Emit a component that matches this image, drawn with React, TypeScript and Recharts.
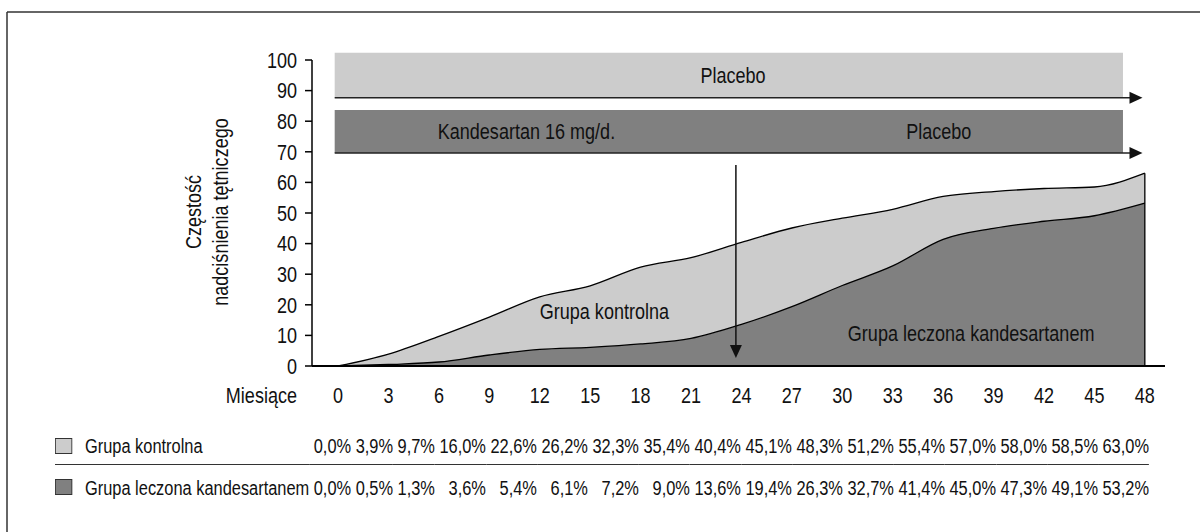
import React from 'react';
import {
  ComposedChart,
  Area,
  XAxis,
  YAxis,
  ReferenceArea,
  ReferenceLine,
  ReferenceDot,
} from 'recharts';

const months = [0, 3, 6, 9, 12, 15, 18, 21, 24, 27, 30, 33, 36, 39, 42, 45, 48];
const kontrolna = [0.0, 3.9, 9.7, 16.0, 22.6, 26.2, 32.3, 35.4, 40.4, 45.1, 48.3, 51.2, 55.4, 57.0, 58.0, 58.5, 63.0];
const leczona = [0.0, 0.5, 1.3, 3.6, 5.4, 6.1, 7.2, 9.0, 13.6, 19.4, 26.3, 32.7, 41.4, 45.0, 47.3, 49.1, 53.2];
const yTicks = [0, 10, 20, 30, 40, 50, 60, 70, 80, 90, 100];
const seriesNames = ['Grupa kontrolna', 'Grupa leczona kandesartanem'];

const FONT = "'Liberation Sans', Arial, sans-serif";
const SX = 0.82; // horizontal condensing (narrow face)
const LIGHT = '#cccccc';
const DARK = '#808080';
const INK = '#111';

const data = months.map((m, i) => ({ m, k: kontrolna[i], l: leczona[i] }));
const fmt = (v: number) => v.toFixed(1).replace('.', ',') + '%';

function NText({
  x,
  y,
  anchor = 'start',
  size = 22,
  rotate = 0,
  dy = '0.35em',
  children,
}: {
  x: number;
  y: number;
  anchor?: 'start' | 'middle' | 'end';
  size?: number;
  rotate?: number;
  dy?: string;
  children: React.ReactNode;
}) {
  return (
    <g transform={`translate(${x},${y})${rotate ? ` rotate(${rotate})` : ''}`}>
      <text
        x={0}
        y={0}
        dy={dy}
        transform={`scale(${SX},1)`}
        textAnchor={anchor}
        fontSize={size}
        fontFamily={FONT}
        fill={INK}
      >
        {children}
      </text>
    </g>
  );
}

const textShape = (txt: string, anchor: 'start' | 'middle' | 'end') => (p: any) => (
  <NText x={p.cx} y={p.cy} anchor={anchor}>
    {txt}
  </NText>
);

const XTick = (p: any) => (
  <NText x={p.x} y={p.y} anchor="middle" dy="0.71em">
    {p.payload.value}
  </NText>
);
const YTick = (p: any) => (
  <NText x={p.x} y={p.y} anchor="end" dy="0.35em">
    {p.payload.value}
  </NText>
);

const arrowRight = (p: any) => (
  <polygon points={`${p.cx},${p.cy} ${p.cx - 13},${p.cy - 6} ${p.cx - 13},${p.cy + 6}`} fill={INK} />
);
const arrowDown = (p: any) => (
  <polygon points={`${p.cx},${p.cy} ${p.cx - 6},${p.cy - 13} ${p.cx + 6},${p.cy - 13}`} fill={INK} />
);

const tdBase: React.CSSProperties = { padding: 0, whiteSpace: 'nowrap' };

function Square({ color }: { color: string }) {
  return (
    <span
      style={{
        display: 'inline-block',
        width: 17 / SX,
        height: 16,
        background: color,
        border: '1.5px solid #333',
        boxSizing: 'border-box',
        verticalAlign: 'middle',
        marginRight: 13 / SX,
        position: 'relative',
        top: -2,
      }}
    />
  );
}

export default function App() {
  const last = months.length - 1;
  const rows = [
    { name: seriesNames[0], color: LIGHT, vals: kontrolna },
    { name: seriesNames[1], color: DARK, vals: leczona },
  ];
  return (
    <div
      style={{
        position: 'absolute',
        left: 0,
        top: 0,
        width: 1200,
        height: 532,
        background: '#fff',
        overflow: 'hidden',
        fontFamily: FONT,
      }}
    >
      <svg width={1200} height={532} style={{ position: 'absolute', left: 0, top: 0 }}>
        <line x1={7} y1={12} x2={1200} y2={12} stroke="#333" strokeWidth={1.5} />
        <line x1={7} y1={12} x2={7} y2={532} stroke="#333" strokeWidth={1.5} />
        <NText x={193} y={212} anchor="middle" rotate={-90}>
          Częstość
        </NText>
        <NText x={220} y={212} anchor="middle" rotate={-90}>
          nadciśnienia tętniczego
        </NText>
        <NText x={297} y={395} anchor="end">
          Miesiące
        </NText>
      </svg>
      <div style={{ position: 'absolute', left: 0, top: 0 }}>
        <ComposedChart
          width={1200}
          height={532}
          data={data}
          margin={{ top: 60, right: 35, bottom: 136, left: 0 }}
        >
          <XAxis
            type="number"
            dataKey="m"
            domain={[-1.55, 49.2]}
            allowDataOverflow
            ticks={months}
            interval={0}
            tickLine={false}
            tickSize={0}
            tickMargin={21}
            height={30}
            axisLine={{ stroke: '#000', strokeWidth: 2 }}
            tick={XTick}
          />
          <YAxis
            type="number"
            domain={[0, 100]}
            allowDataOverflow
            ticks={yTicks}
            interval={0}
            width={312}
            tickSize={7}
            tickMargin={8}
            axisLine={{ stroke: '#000', strokeWidth: 1.5 }}
            tickLine={{ stroke: '#000', strokeWidth: 1.5 }}
            tick={YTick}
          />
          <ReferenceArea x1={-0.2} x2={46.7} y1={87.7} y2={102.4} fill={LIGHT} fillOpacity={1} stroke="none" ifOverflow="visible" />
          <ReferenceArea x1={-0.2} x2={46.7} y1={69.6} y2={83.7} fill={DARK} fillOpacity={1} stroke="none" ifOverflow="visible" />
          <Area
            type="monotone"
            dataKey="k"
            stroke="#000"
            strokeWidth={1.3}
            fill={LIGHT}
            fillOpacity={1}
            dot={false}
            activeDot={false}
            isAnimationActive={false}
          />
          <Area
            type="monotone"
            dataKey="l"
            stroke="#000"
            strokeWidth={1.3}
            fill={DARK}
            fillOpacity={1}
            dot={false}
            activeDot={false}
            isAnimationActive={false}
          />
          <ReferenceLine
            segment={[{ x: months[last], y: 0 }, { x: months[last], y: kontrolna[last] }]}
            stroke="#000"
            strokeWidth={1.3}
            ifOverflow="visible"
          />
          <ReferenceLine
            segment={[{ x: -0.2, y: 87.7 }, { x: 47.2, y: 87.7 }]}
            stroke="#222"
            strokeWidth={1.5}
            ifOverflow="visible"
          />
          <ReferenceLine
            segment={[{ x: -0.2, y: 69.6 }, { x: 47.2, y: 69.6 }]}
            stroke="#222"
            strokeWidth={1.5}
            ifOverflow="visible"
          />
          <ReferenceDot x={47.86} y={87.7} r={0} shape={arrowRight} ifOverflow="visible" />
          <ReferenceDot x={47.86} y={69.6} r={0} shape={arrowRight} ifOverflow="visible" />
          <ReferenceLine
            segment={[{ x: 23.67, y: 65.7 }, { x: 23.67, y: 4 }]}
            stroke={INK}
            strokeWidth={1.5}
            ifOverflow="visible"
          />
          <ReferenceDot x={23.67} y={2.6} r={0} shape={arrowDown} ifOverflow="visible" />
          <ReferenceDot x={23.5} y={95.1} r={0} shape={textShape('Placebo', 'middle')} ifOverflow="visible" />
          <ReferenceDot x={5.93} y={76.8} r={0} shape={textShape('Kandesartan 16 mg/d.', 'start')} ifOverflow="visible" />
          <ReferenceDot x={33.8} y={76.8} r={0} shape={textShape('Placebo', 'start')} ifOverflow="visible" />
          <ReferenceDot x={12.0} y={18.0} r={0} shape={textShape('Grupa kontrolna', 'start')} ifOverflow="visible" />
          <ReferenceDot x={30.33} y={10.8} r={0} shape={textShape('Grupa leczona kandesartanem', 'start')} ifOverflow="visible" />
        </ComposedChart>
      </div>
      <div
        style={{
          position: 'absolute',
          left: 55,
          top: 430,
          transform: `scaleX(${SX})`,
          transformOrigin: '0 0',
        }}
      >
        <table
          style={{
            borderCollapse: 'collapse',
            fontFamily: FONT,
            fontSize: 20,
            color: INK,
          }}
        >
          <tbody>
            {rows.map((r, ri) => {
              const border = ri === 0 ? '1.5px solid #333' : 'none';
              return (
                <tr key={r.name} style={{ height: ri === 0 ? 34 : 48 }}>
                  <td style={{ ...tdBase, width: 259.5 / SX, borderBottom: border, verticalAlign: 'middle' }}>
                    <Square color={r.color} />
                    {r.name}
                  </td>
                  {r.vals.map((v, i) => (
                    <td
                      key={i}
                      style={{
                        ...tdBase,
                        paddingLeft: 4.5 / SX,
                        textAlign: 'right',
                        borderBottom: border,
                        verticalAlign: 'middle',
                      }}
                    >
                      {fmt(v)}
                    </td>
                  ))}
                  <td style={{ ...tdBase, width: 8 / SX, borderBottom: border }} />
                </tr>
              );
            })}
          </tbody>
        </table>
      </div>
    </div>
  );
}
